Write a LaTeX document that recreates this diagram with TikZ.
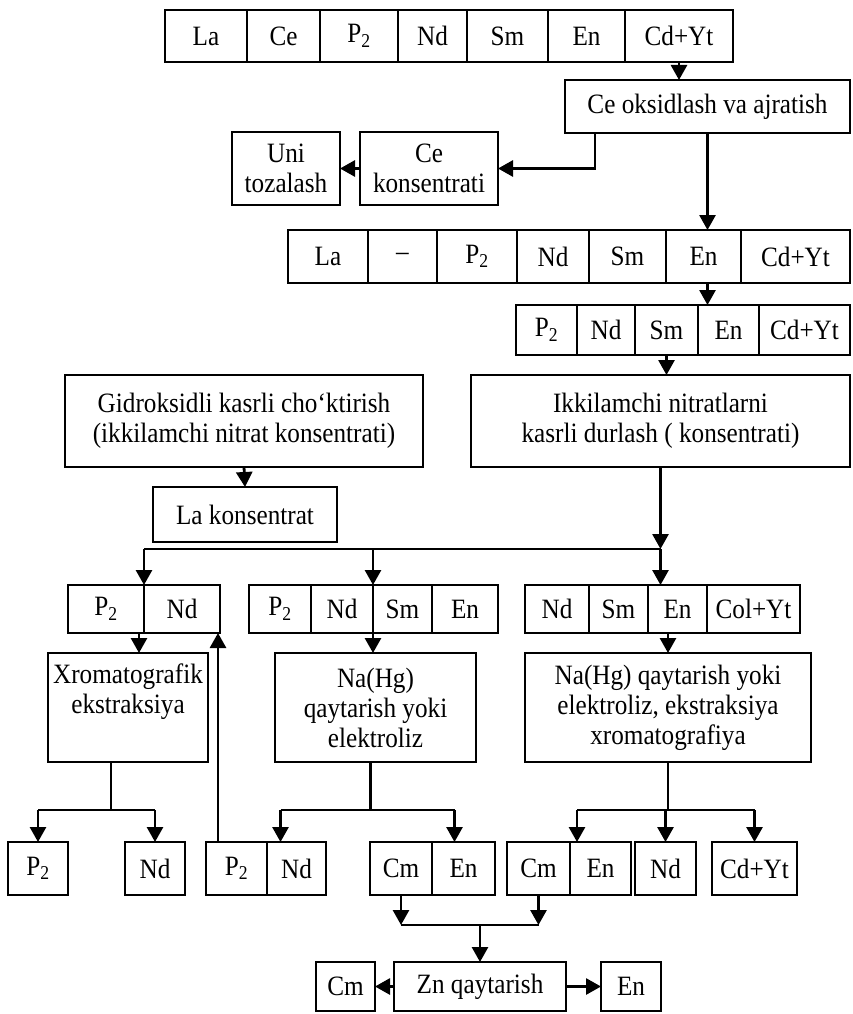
\documentclass[tikz,border=0pt]{standalone}
\usepackage{fontspec}
\setmainfont{Liberation Serif}[FakeStretch=0.9]
\usetikzlibrary{arrows.meta,positioning}
\newcommand\bxfont{\fontsize{28}{30}\selectfont}

\begin{document}
\begin{tikzpicture}[x=1pt,y=-1pt,
    bx/.style={draw,line width=2.8pt,inner sep=0pt,outer sep=0pt,align=center,font=\bxfont},
    cell/.style={bx,minimum height=#1},
    cell/.default=50,
    arr/.style={-{Triangle[length=15pt,width=16pt]},line width=2.8pt},
    ln/.style={line width=2.8pt}
  ]
  \useasboundingbox (0,0) rectangle (853,1014);

  \node[cell=52,minimum width=82] (r1a) at (206,36) {La};
  \node[cell=52,minimum width=73,right=0pt of r1a] (r1b) {Ce};
  \node[cell=52,minimum width=78,right=0pt of r1b] (r1c) {P\textsubscript{2}};
  \node[cell=52,minimum width=69,right=0pt of r1c] (r1d) {Nd};
  \node[cell=52,minimum width=81,right=0pt of r1d] (r1e) {Sm};
  \node[cell=52,minimum width=77,right=0pt of r1e] (r1f) {En};
  \node[cell=52,minimum width=108,right=0pt of r1f] (r1g) {Cd+Yt};

  \node[bx,minimum width=285,minimum height=53] (ceox) at (707.5,106.5) {Ce oksidlash va ajratish};
  \node[bx,minimum width=138,minimum height=73] (cekon) at (429,168.5) {Ce\\konsentrati};
  \node[bx,minimum width=108,minimum height=73] (uni) at (286,168.5) {Uni\\tozalash};

  \node[cell=53,minimum width=80] (r2a) at (328,256.5) {La};
  \node[cell=53,minimum width=69,right=0pt of r2a] (r2b) {--};
  \node[cell=53,minimum width=80,right=0pt of r2b] (r2c) {P\textsubscript{2}};
  \node[cell=53,minimum width=72,right=0pt of r2c] (r2d) {Nd};
  \node[cell=53,minimum width=77,right=0pt of r2d] (r2e) {Sm};
  \node[cell=53,minimum width=75,right=0pt of r2e] (r2f) {En};
  \node[cell=53,minimum width=109,right=0pt of r2f] (r2g) {Cd+Yt};

  \node[cell,minimum width=61] (r3a) at (546.5,330) {P\textsubscript{2}};
  \node[cell,minimum width=58,right=0pt of r3a] (r3b) {Nd};
  \node[cell,minimum width=63,right=0pt of r3b] (r3c) {Sm};
  \node[cell,minimum width=61,right=0pt of r3c] (r3d) {En};
  \node[cell,minimum width=91,right=0pt of r3d] (r3e) {Cd+Yt};

  \node[bx,minimum width=358,minimum height=92] (gid) at (244,421) {Gidroksidli kasrli cho‘ktirish\\(ikkilamchi nitrat konsentrati)};
  \node[bx,minimum width=379,minimum height=92] (ikk) at (660.5,421) {Ikkilamchi nitratlarni\\kasrli durlash ( konsentrati)};
  \node[bx,minimum width=184,minimum height=55] (lakon) at (245,514.5) {La konsentrat};

  \node[cell=48,minimum width=76] (r4a) at (106,609) {P\textsubscript{2}};
  \node[cell=48,minimum width=76,right=0pt of r4a] (r4b) {Nd};
  \node[cell=48,minimum width=62] (r4c) at (280,609) {P\textsubscript{2}};
  \node[cell=48,minimum width=62,right=0pt of r4c] (r4d) {Nd};
  \node[cell=48,minimum width=59,right=0pt of r4d] (r4e) {Sm};
  \node[cell=48,minimum width=66,right=0pt of r4e] (r4f) {En};
  \node[cell=48,minimum width=64] (r4g) at (557,609) {Nd};
  \node[cell=48,minimum width=59,right=0pt of r4g] (r4h) {Sm};
  \node[cell=48,minimum width=59,right=0pt of r4h] (r4i) {En};
  \node[cell=48,minimum width=93,right=0pt of r4i] (r4j) {Col+Yt};

  \node[bx,minimum width=160,minimum height=109] (xro) at (128,707.5) {\parbox[c][88pt][t]{156pt}{\centering Xromatografik\\ekstraksiya}};
  \node[bx,minimum width=201,minimum height=109] (nahg) at (375.5,707.5) {Na(Hg)\\qaytarish yoki\\elektroliz};
  \node[bx,minimum width=286,minimum height=109] (nahgb) at (668,707.5) {Na(Hg) qaytarish yoki\\elektroliz, ekstraksiya\\xromatografiya};

  \node[cell=53,minimum width=60] (b1) at (38,868.5) {P\textsubscript{2}};
  \node[cell=53,minimum width=60] (b2) at (155,868.5) {Nd};
  \node[cell=53,minimum width=61] (b3) at (236.5,868.5) {P\textsubscript{2}};
  \node[cell=53,minimum width=59,right=0pt of b3] (b4) {Nd};
  \node[cell=53,minimum width=62] (b5) at (401,868.5) {Cm};
  \node[cell=53,minimum width=63,right=0pt of b5] (b6) {En};
  \node[cell=53,minimum width=63] (b7) at (538.5,868.5) {Cm};
  \node[cell=53,minimum width=61,right=0pt of b7] (b8) {En};
  \node[cell=53,minimum width=61] (b9) at (665.5,868.5) {Nd};
  \node[cell=53,minimum width=85] (b10) at (754.5,868.5) {Cd+Yt};

  \node[cell=49,minimum width=172] (zn) at (480,986.5) {Zn qaytarish};
  \node[cell=49,minimum width=59] (cmz) at (345.5,986.5) {Cm};
  \node[cell=49,minimum width=60] (enz) at (631,986.5) {En};

  \coordinate (bus) at (0,549);
  \coordinate (br) at (0,810);
  \coordinate (cj) at (0,925);
  \coordinate (b8p) at ([xshift=7pt]b8.north west);

  \draw[arr] (r1g.south) -- (r1g.south |- ceox.north);
  \draw[arr] ([xshift=-112.5pt]ceox.south) |- (cekon.east);
  \draw[arr] (cekon.west) -- (uni.east);
  \draw[arr] (ceox.south) -- (ceox.south |- r2f.north);
  \draw[arr] (ceox.south |- r2f.south) -- (ceox.south |- r3d.north);
  \draw[arr] (r3c.south) -- (r3c.south |- ikk.north);
  \draw[arr] (gid.south) -- (lakon.north);

  \draw[arr] (ikk.south) -- (ikk.south |- bus);
  \draw[ln] (r4a.east |- bus) -- (ikk.south |- bus);
  \foreach \a in {r4a.east,r4d.east,ikk.south}
    \draw[arr] (\a |- bus) -- (\a |- r4a.north);

  \draw[arr] ([xshift=-5pt]r4a.south east) -- ([xshift=-5pt]r4a.south east |- xro.north);
  \draw[arr] (r4d.south east) -- (r4d.south east |- nahg.north);
  \draw[arr] (nahgb.north |- r4i.south) -- (nahgb.north);

  \draw[ln] ([xshift=-17pt]xro.south) -- ([xshift=-17pt]xro.south |- br);
  \draw[ln] (b1.north |- br) -- (b2.north |- br);
  \foreach \b in {b1,b2}
    \draw[arr] (\b.north |- br) -- (\b.north);
  \draw[arr] ([xshift=12pt]b3.north west) -- ([xshift=12pt]b3.north west |- r4b.south);

  \draw[ln] ([xshift=-5pt]nahg.south) -- ([xshift=-5pt]nahg.south |- br);
  \draw[ln] ([xshift=-16pt]b4.north |- br) -- ([xshift=-9pt]b6.north |- br);
  \draw[arr] ([xshift=-16pt]b4.north |- br) -- ([xshift=-16pt]b4.north);
  \draw[arr] ([xshift=-9pt]b6.north |- br) -- ([xshift=-9pt]b6.north);

  \draw[ln] (nahgb.south) -- (nahgb.south |- br);
  \draw[ln] (b8p |- br) -- (b10.north |- br);
  \foreach \a in {b8p,b9.north,b10.north}
    \draw[arr] (\a |- br) -- (\a);

  \foreach \b in {b5,b7}
    \draw[arr] (\b.south) -- (\b.south |- cj);
  \draw[ln] (b5.south |- cj) -- (b7.south |- cj);
  \draw[arr] (zn.north |- cj) -- (zn.north);
  \draw[arr] (zn.west) -- (cmz.east);
  \draw[arr] (zn.east) -- (enz.west);
\end{tikzpicture}
\end{document}
